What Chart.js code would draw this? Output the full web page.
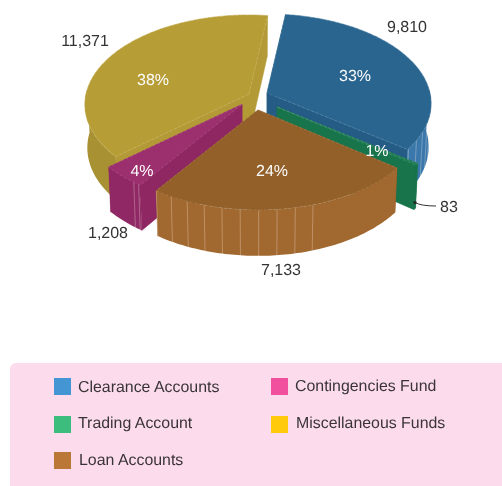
<!DOCTYPE html>
<html><head><meta charset="utf-8">
<style>html,body{margin:0;padding:0;background:#fff}canvas{display:block}</style>
<script src="https://cdn.jsdelivr.net/npm/chart.js@4/dist/chart.umd.min.js"></script>
</head><body>
<canvas id="c" width="502" height="486"></canvas>
<script>
// data
const categories = ["Clearance Accounts","Trading Account","Loan Accounts","Contingencies Fund","Miscellaneous Funds"];
const values = [9810,83,7133,1208,11371];
const percentLabels = ["33%","1%","24%","4%","38%"];
const valueLabels = ["9,810","83","7,133","1,208","11,371"];
// colours
const legendColors = ["#4395d4","#3cbd7d","#ba7736","#f0509e","#ffc90c"];
const topColors = ["#29658f","#1c7c52","#936029","#9c2f6e","#b79d35"];
const wallColors = ["#255c85","#17744b","#8e5c27","#8f2762","#b39a36"];
const rimColors = ["#3a78ab","#17744b","#a1682f","#8f2864","#a89133"];
// layout
const CX=258, CY=96.4, RX=163, RY=88.3, K=0.117, DEPTH=43;
const sliceOffset=[[9,-3.4],[19,10.6],[0,13.6],[-16,8],[-9,-2.4]];
const rimLines=[[100,126,5.6],null,[161,214.3,5.75],[215,217,2],null];
const percentPos=[[355,77],[377,152],[272,172],[142,172],[153,81]];
const valuePos=[[407,28],[449,208],[281,271],[108,234],[85,42]];
const legendPos=[[54,378,78,387.5],[54,416,78,423.5],[54,452,79,461],[271,378,295,386.5],[271,416,296,424]];

function prj(s,a){ // a: degrees clockwise from top, relative to slice apex
  const r=a*Math.PI/180,u=Math.sin(r),v=-Math.cos(r),p=1/(1-K*v);
  return {x:s.x+RX*u*p,y:s.y+RY*v*p,p,v};
}
function low(s,q){const d=DEPTH*(1+0.5*(q.p-1));return {x:s.x+(q.x-s.x)*0.985,y:q.y+d};}
function apexLow(s){return {x:s.x,y:s.y+DEPTH};}

const pie3d={id:'pie3d',
  beforeDatasetDraw(chart){
    const ctx=chart.ctx, els=chart.getDatasetMeta(0).data;
    const slices=els.map((el,i)=>{
      const a0=(el.startAngle+Math.PI/2)*180/Math.PI, a1=(el.endAngle+Math.PI/2)*180/Math.PI;
      return {i,a0,a1,x:CX+sliceOffset[i][0],y:CY+sliceOffset[i][1],mid:-Math.cos((a0+a1)/2*Math.PI/180)};
    }).sort((p,q)=>p.mid-q.mid);
    ctx.save();
    slices.forEach(s=>{
      const i=s.i, pts=[];
      const n=Math.max(2,Math.ceil(s.a1-s.a0));
      for(let k=0;k<=n;k++)pts.push(prj(s,s.a0+(s.a1-s.a0)*k/n));
      const A=apexLow(s);
      // radial walls
      [pts[0],pts[pts.length-1]].forEach(q=>{
        const b=low(s,q);
        ctx.beginPath();ctx.moveTo(s.x,s.y);ctx.lineTo(q.x,q.y);ctx.lineTo(b.x,b.y);ctx.lineTo(A.x,A.y);ctx.closePath();
        ctx.fillStyle=wallColors[i];ctx.fill();
        ctx.strokeStyle=wallColors[i];ctx.lineWidth=.5;ctx.stroke();
      });
      // outer rim: only the part that faces the viewer
      const front=pts.filter(q=>q.v>=-0.06);
      if(front.length>1){
        ctx.beginPath();
        front.forEach((q,k)=>k?ctx.lineTo(q.x,q.y):ctx.moveTo(q.x,q.y));
        for(let k=front.length-1;k>=0;k--){const b=low(s,front[k]);ctx.lineTo(b.x,b.y);}
        ctx.closePath();ctx.fillStyle=rimColors[i];ctx.fill();
      }
      // rim segment lines
      if(rimLines[i]){
        const [l0,l1,st]=rimLines[i];
        ctx.strokeStyle='rgba(255,240,230,.38)';ctx.lineWidth=.8;
        for(let a=l1;a>=l0;a-=st){
          const q=prj(s,a),b=low(s,q);
          ctx.beginPath();ctx.moveTo(q.x,q.y);ctx.lineTo(b.x,b.y);ctx.stroke();
        }
      }
      // top face
      ctx.beginPath();ctx.moveTo(s.x,s.y);
      pts.forEach(q=>ctx.lineTo(q.x,q.y));ctx.closePath();
      ctx.fillStyle=topColors[i];ctx.fill();
      ctx.strokeStyle=topColors[i];ctx.lineWidth=.5;ctx.stroke();
      // light dashed edges
      ctx.setLineDash([3,2]);ctx.strokeStyle='rgba(255,255,255,.2)';ctx.lineWidth=.7;
      ctx.stroke();
      ctx.setLineDash([]);
    });
    ctx.restore();
    return false;
  },
  afterDatasetsDraw(chart){
    const ctx=chart.ctx;
    ctx.save();
    ctx.textRendering='geometricPrecision';
    ctx.textBaseline='middle';
    // leader
    ctx.strokeStyle='#333';ctx.fillStyle='#222';ctx.lineWidth=1;
    ctx.beginPath();ctx.arc(415,202.5,1.6,0,Math.PI*2);ctx.fill();
    ctx.beginPath();ctx.moveTo(415,202.5);ctx.quadraticCurveTo(421,206,436,206);ctx.stroke();
    // percent labels
    ctx.textAlign='center';
    ctx.font='16px "Liberation Sans"';ctx.fillStyle='#fdfdfd';
    percentLabels.forEach((t,i)=>ctx.fillText(t,percentPos[i][0],percentPos[i][1]));
    ctx.fillStyle='#333';
    valueLabels.forEach((t,i)=>ctx.fillText(t,valuePos[i][0],valuePos[i][1]));
    // legend panel
    ctx.fillStyle='#fcdcec';
    ctx.beginPath();ctx.roundRect(10,363,492,123,[6,0,0,0]);ctx.fill();
    ctx.textAlign='left';ctx.font='15.9px "Liberation Sans"';
    chart.data.labels.forEach((t,i)=>{
      const L=legendPos[i];
      ctx.fillStyle=legendColors[i];ctx.fillRect(L[0],L[1],17,17);
      ctx.fillStyle='#3a3438';ctx.fillText(t,L[2],L[3]);
    });
    ctx.restore();
  }
};

new Chart(document.getElementById('c'),{
  type:'pie',
  data:{labels:categories,datasets:[{data:values,backgroundColor:topColors,rotation:7.3,borderWidth:0}]},
  options:{responsive:false,animation:false,events:[],
    plugins:{legend:{display:false},tooltip:{enabled:false}}},
  plugins:[pie3d]
});
</script>
</body></html>
